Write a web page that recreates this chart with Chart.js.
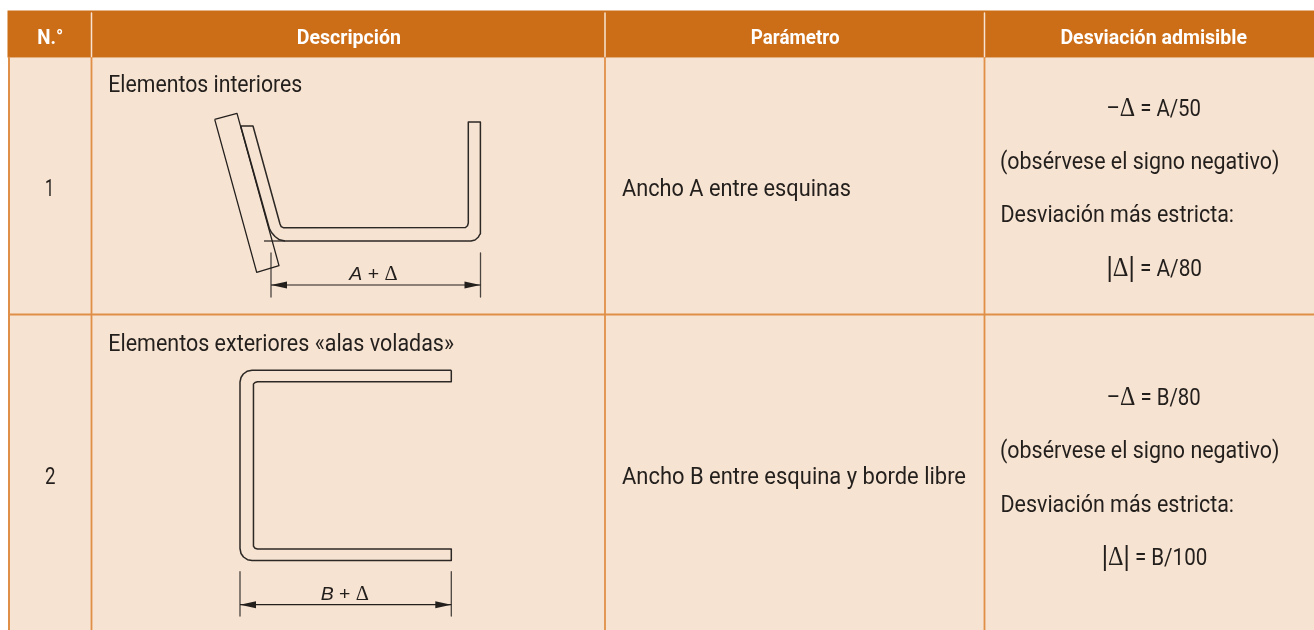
<!DOCTYPE html>
<html>
<head>
<meta charset="utf-8">
<title>Desviación admisible</title>
<script src="https://cdn.jsdelivr.net/npm/chart.js@4"></script>
<style>
html, body { margin: 0; padding: 0; background: #fff; }
canvas { display: block; }
</style>
</head>
<body>
<canvas id="tabla" width="1314" height="630"></canvas>
<script>
// cell areas
var headerArea = [[7.5, 10.5], [1314, 10.5], [1314, 57.5], [7.5, 57.5], [7.5, 10.5]];
var bodyArea = [[9, 57.5], [1314, 57.5], [1314, 630], [9, 630], [9, 57.5]];

// table rules
var leftRule = [[9, 57.5], [9, 630]];
var rowRule = [[9, 314.5], [1314, 314.5]];
var columnRules = [91.5, 605, 984.5];
var headerRuleTop = 13;
var headerRuleBottom = 56.5;

// drawing, row 1
var tiltedPlate = [[214.7, 119.3], [237, 113.3], [279, 265.7], [256.7, 272.3], [214.7, 119.3]];
var profileA = [[240.7, 126], [269.3, 228.3], [271.5, 232.5], [275, 236.5], [279.5, 239.8], [285, 241], [471, 241], [475, 240], [478.2, 237.3], [480, 234], [480.4, 230], [480.4, 122], [468.3, 122], [468.3, 223], [467.5, 225.8], [465.5, 227.5], [283.3, 227.7], [281.2, 226.6], [280, 224], [253, 126], [240.7, 126]];
var cornerTickA = [[264, 241], [285, 241]];
var dimA = [[271, 285], [480.5, 285]];
var dimALeft = [[271, 253], [271, 297]];
var dimARight = [[480.5, 253], [480.5, 297]];
var arrowALeft = [[271, 285], [287, 281.5], [287, 288.5], [271, 285]];
var arrowARight = [[480.5, 285], [464.5, 281.5], [464.5, 288.5], [480.5, 285]];

// drawing, row 2
var profileB = [[451.3, 370.3], [252, 370.3], [247, 371.3], [243.3, 374], [241, 377.5], [240, 382], [240, 548.5], [241, 553.5], [243.5, 557], [247.5, 559.7], [252, 560.5], [451.3, 560.5], [451.3, 549], [257.5, 549], [255, 548.2], [253.5, 546.3], [253.3, 544], [253.3, 387], [253.8, 384], [255, 382.5], [257.5, 381.7], [451.3, 381.7], [451.3, 370.3]];
var dimB = [[240, 604.7], [451.3, 604.7]];
var dimBLeft = [[240, 571.7], [240, 616]];
var dimBRight = [[451.3, 571.7], [451.3, 616]];
var arrowBLeft = [[240, 604.7], [256, 601.2], [256, 608.2], [240, 604.7]];
var arrowBRight = [[451.3, 604.7], [435.3, 601.2], [435.3, 608.2], [451.3, 604.7]];

// texts
var headers = ["N.°", "Descripción", "Parámetro", "Desviación admisible"];
var numbers = ["1", "2"];
var descriptions = ["Elementos interiores", "Elementos exteriores «alas voladas»"];
var parameters = ["Ancho A entre esquinas", "Ancho B entre esquina y borde libre"];
var noteSign = "(obsérvese el signo negativo)";
var noteStrict = "Desviación más estricta:";

var headFont = "bold 20px Roboto";
var bodyFont = "23px Roboto";
var symFont = "27px 'Liberation Serif'";
var barFont = "27px 'Liberation Sans'";
var dimFont = "19px 'Liberation Sans'";
var dimItalic = "italic 19px 'Liberation Sans'";
var dimSym = "20px 'Liberation Serif'";

// runs, left x, right x, baseline
var labels = [
    { runs: [[headers[0], headFont]], x0: 37.3, x1: 63.3, y: 44, color: "#fff" },
    { runs: [[headers[1], headFont]], x0: 296.7, x1: 401, y: 44, color: "#fff" },
    { runs: [[headers[2], headFont]], x0: 750.7, x1: 839.5, y: 44, color: "#fff" },
    { runs: [[headers[3], headFont]], x0: 1060.4, x1: 1247, y: 44, color: "#fff" },
    { runs: [[numbers[0], bodyFont]], x0: 45, x1: 54, y: 195.7 },
    { runs: [[numbers[1], bodyFont]], x0: 45, x1: 55.5, y: 484.3 },
    { runs: [[descriptions[0], bodyFont]], x0: 108.3, x1: 302.3, y: 92 },
    { runs: [[descriptions[1], bodyFont]], x0: 108.3, x1: 454, y: 351 },
    { runs: [[parameters[0], bodyFont]], x0: 622, x1: 851, y: 195.7 },
    { runs: [[parameters[1], bodyFont]], x0: 622, x1: 966, y: 484.3 },
    { runs: [["–", bodyFont], ["Δ", symFont], [" = A/50", bodyFont]], x0: 1106.4, x1: 1201, y: 116 },
    { runs: [[noteSign, bodyFont]], x0: 1000, x1: 1279.4, y: 168.7 },
    { runs: [[noteStrict, bodyFont]], x0: 1000.5, x1: 1234, y: 221.7 },
    { runs: [["|", barFont], ["Δ", symFont], ["|", barFont], [" = A/80", bodyFont]], x0: 1106.4, x1: 1202, y: 276 },
    { runs: [["–", bodyFont], ["Δ", symFont], [" = B/80", bodyFont]], x0: 1106.7, x1: 1200.7, y: 405 },
    { runs: [[noteSign, bodyFont]], x0: 1000, x1: 1279.4, y: 458.3 },
    { runs: [[noteStrict, bodyFont]], x0: 1000.5, x1: 1234, y: 511.7 },
    { runs: [["|", barFont], ["Δ", symFont], ["|", barFont], [" = B/100", bodyFont]], x0: 1101.7, x1: 1207.3, y: 565 },
    { runs: [["A", dimItalic], [" + ", dimFont], ["Δ", dimSym]], x0: 349.3, x1: 397.7, y: 280 },
    { runs: [["B", dimItalic], [" + ", dimFont], ["Δ", dimSym]], x0: 320.7, x1: 369, y: 599.5 }
];

var ink = "#231f1d";
var orange = "#cc6d17";
var ruleOrange = "#e08f48";
var paper = "#f7e3d1";

function line(data, color, width) {
    return {
        data: data,
        showLine: true,
        borderColor: color,
        borderWidth: width,
        borderJoinStyle: "round",
        pointRadius: 0,
        tension: 0,
        fill: false
    };
}

function area(data, color) {
    return {
        data: data,
        showLine: true,
        borderColor: color,
        backgroundColor: color,
        borderWidth: 0,
        pointRadius: 0,
        tension: 0,
        fill: "shape"
    };
}

// first dataset ends up on top, so the cell areas go last
var sets = [
    area(arrowALeft, ink), area(arrowARight, ink), area(arrowBLeft, ink), area(arrowBRight, ink),
    line(tiltedPlate, ink, 1.3), line(profileA, "#2c2825", 1.5), line(cornerTickA, ink, 1.2),
    line(dimA, ink, 1.2), line(dimALeft, "#4a4541", 1.3), line(dimARight, "#4a4541", 1.3),
    line(profileB, "#2c2825", 1.5), line(dimB, ink, 1.2), line(dimBLeft, "#4a4541", 1.3), line(dimBRight, "#4a4541", 1.3)
];
for (var i in columnRules) {
    sets.push(line([[columnRules[i], headerRuleTop], [columnRules[i], headerRuleBottom]], paper, 1.5));
    sets.push(line([[columnRules[i], headerRuleBottom + 1], [columnRules[i], 630]], ruleOrange, 1.8));
}
sets.push(line(rowRule, ruleOrange, 1.8));
sets.push(line(leftRule, ruleOrange, 2));
sets.push(area(headerArea, orange));
sets.push(area(bodyArea, paper));

var textPlugin = {
    id: "tableText",
    afterDatasetsDraw: function (chart) {
        var ctx = chart.ctx;
        var sx = chart.scales.x, sy = chart.scales.y;
        ctx.save();
        ctx.textBaseline = "alphabetic";
        ctx.textAlign = "left";
        labels.forEach(function (lab) {
            var total = 0;
            lab.runs.forEach(function (r) {
                ctx.font = r[1];
                total += ctx.measureText(r[0]).width;
            });
            var left = sx.getPixelForValue(lab.x0);
            var k = (sx.getPixelForValue(lab.x1) - left) / total;
            ctx.save();
            ctx.translate(left, sy.getPixelForValue(lab.y));
            ctx.scale(k, 1);
            ctx.fillStyle = lab.color || ink;
            var pos = 0;
            lab.runs.forEach(function (r) {
                ctx.font = r[1];
                ctx.fillText(r[0], pos, 0);
                pos += ctx.measureText(r[0]).width;
            });
            ctx.restore();
        });
        ctx.restore();
    }
};

new Chart(document.getElementById("tabla"), {
    type: "scatter",
    data: { datasets: sets },
    plugins: [textPlugin],
    options: {
        responsive: false,
        animation: false,
        layout: { padding: 0 },
        plugins: { legend: { display: false }, tooltip: { enabled: false }, title: { display: false } },
        scales: {
            x: { type: "linear", min: 0, max: 1314, display: false },
            y: { type: "linear", min: 0, max: 630, reverse: true, display: false }
        }
    }
});
</script>
</body>
</html>
